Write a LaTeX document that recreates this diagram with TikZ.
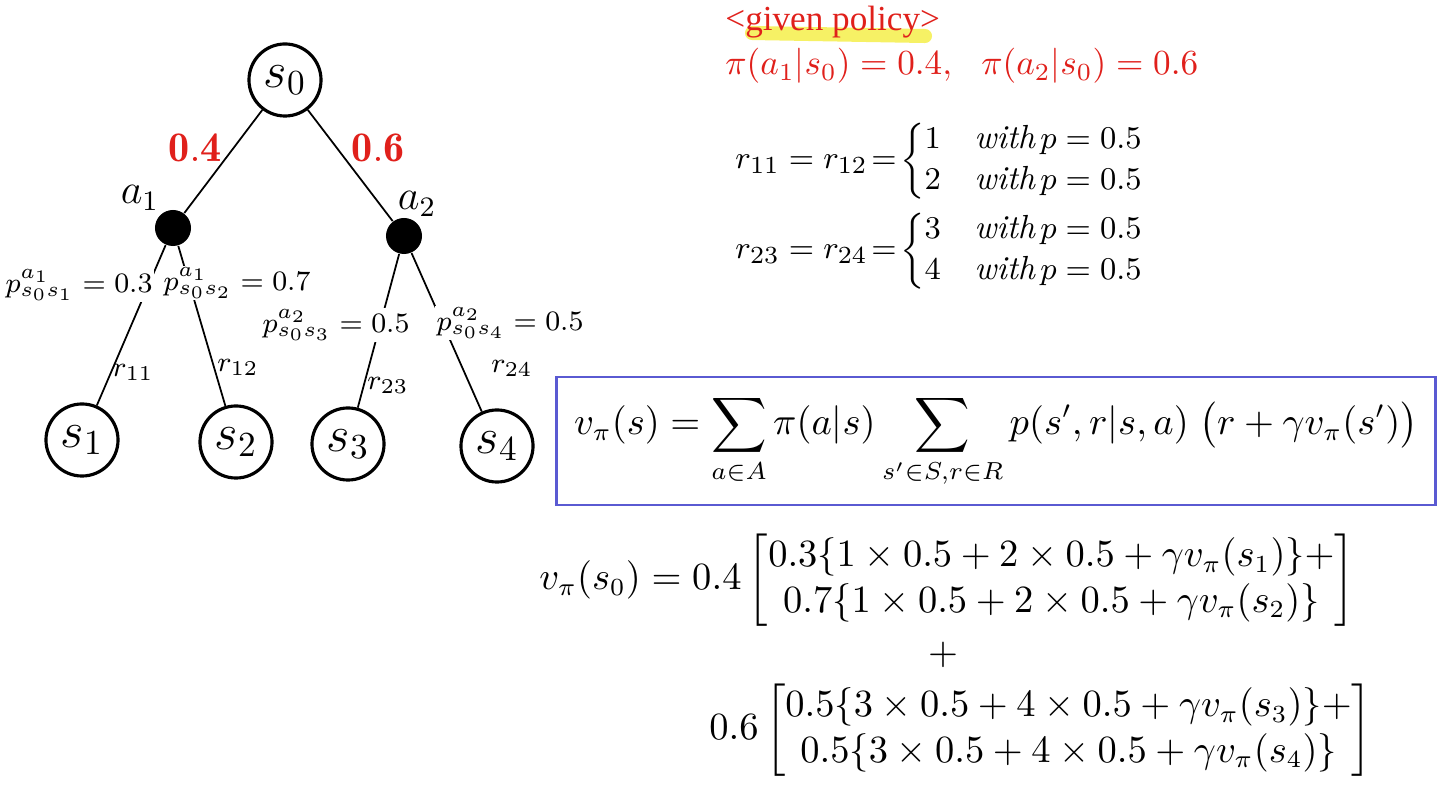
\documentclass[tikz,border=0pt]{standalone}
\usepackage{amsmath}
\usepackage{fontspec}
\newfontfamily\polfont{Liberation Serif}
\usetikzlibrary{positioning}
\definecolor{polred}{HTML}{E0201B}
\definecolor{boxblue}{HTML}{5A5AD2}
\definecolor{hilite}{HTML}{F4EE4A}

\begin{document}
\begin{tikzpicture}[x=0.01cm, y=-0.01cm,
  state/.style={circle, draw, line width=0.9pt, minimum size=7.2mm, inner sep=0pt, font=\Large},
  act/.style={circle, fill=black, minimum size=3.6mm, inner sep=0pt},
  edge/.style={line width=0.5pt},
  plab/.style={fill=white, inner sep=0.5pt, font=\footnotesize},
  rlab/.style={font=\footnotesize},
  prob/.style={text=polred, font=\large},
  eqn/.style={font=\fontsize{10.7}{13}\selectfont},
  rwd/.style={anchor=west, font=\fontsize{9.5}{11.5}\selectfont},
]
\useasboundingbox (0,0) rectangle (1440,789);
% --- tree ---
\node[state] (s0) at (285,80) {$s_0$};
\node[act] (a1) at (173,228) {};
\node[act] (a2) at (404,236) {};
\node[state] (s1) at (82,440) {$s_1$};
\node[state] (s2) at (236,442) {$s_2$};
\node[state] (s3) at (348,444) {$s_3$};
\node[state] (s4) at (497,446) {$s_4$};
\draw[edge] (s0) -- (a1);
\draw[edge] (s0) -- (a2);
\draw[edge] (a1) -- (s1);
\draw[edge] (a1) -- (s2);
\draw[edge] (a2) -- (s3);
\draw[edge] (a2) -- (s4);
% --- action labels ---
\node[prob] (pa1) at (195,148) {$\mathbf{0.4}$};
\node[prob] (pa2) at (378,148) {$\mathbf{0.6}$};
\node[font=\large] (la1) at (140,198) {$a_1$};
\node[font=\large] (la2) at (417,204) {$a_2$};
% --- transition labels ---
\node[plab] (p1) at (79,285) {$p^{a_1}_{s_0s_1}=0.3$};
\node[plab] (p2) at (237,283) {$p^{a_1}_{s_0s_2}=0.7$};
\node[plab] (p3) at (336,325) {$p^{a_2}_{s_0s_3}=0.5$};
\node[plab] (p4) at (510,323) {$p^{a_2}_{s_0s_4}=0.5$};
\node[rlab] (r11) at (133,372) {$r_{11}$};
\node[rlab] (r12) at (238,367) {$r_{12}$};
\node[rlab] (r23) at (388,385) {$r_{23}$};
\node[rlab] (r24) at (512,368) {$r_{24}$};
% --- policy ---
\draw[hilite, line width=4pt, line cap=round, opacity=0.85] (752,33) -- (925,36);
\node[text=polred, anchor=west, font=\polfont\normalsize] (given) at (713,22) {<given policy>};
\node[text=polred, anchor=west, font=\normalsize] (pol) at (713,66)
  {$\pi(a_1|s_0)=0.4,\ \ \pi(a_2|s_0)=0.6$};
% --- rewards ---
\node[rwd] (rw1) at (723,161)
  {$r_{11}=r_{12}\!=\!\left\{\begin{array}{@{}l@{\quad}l@{}}1 & \mathit{with}\,p=0.5\\ 2 & \mathit{with}\,p=0.5\end{array}\right.$};
\node[rwd] (rw2) at (723,251)
  {$r_{23}=r_{24}\!=\!\left\{\begin{array}{@{}l@{\quad}l@{}}3 & \mathit{with}\,p=0.5\\ 4 & \mathit{with}\,p=0.5\end{array}\right.$};
% --- bellman ---
\node[draw=boxblue, line width=0.8pt, minimum width=8.78cm, minimum height=1.28cm, eqn] (bell) at (996,441)
  {$\displaystyle v_\pi(s)=\sum_{a\in A}\pi(a|s)\sum_{s'\in S,r\in R}p(s',r|s,a)\;\big(r+\gamma v_\pi(s')\big)$};
% --- worked example ---
\node[eqn, anchor=west] (eq1) at (527,580)
  {$v_\pi(s_0)=0.4\begin{bmatrix}0.3\{1\times0.5+2\times0.5+\gamma v_\pi(s_1)\}+\\ 0.7\{1\times0.5+2\times0.5+\gamma v_\pi(s_2)\}\end{bmatrix}$};
\node[eqn] (plus) at (943,655) {$+$};
\node[eqn, anchor=west] (eq2) at (697,730)
  {$0.6\begin{bmatrix}0.5\{3\times0.5+4\times0.5+\gamma v_\pi(s_3)\}+\\ 0.5\{3\times0.5+4\times0.5+\gamma v_\pi(s_4)\}\end{bmatrix}$};
\end{tikzpicture}
\end{document}
